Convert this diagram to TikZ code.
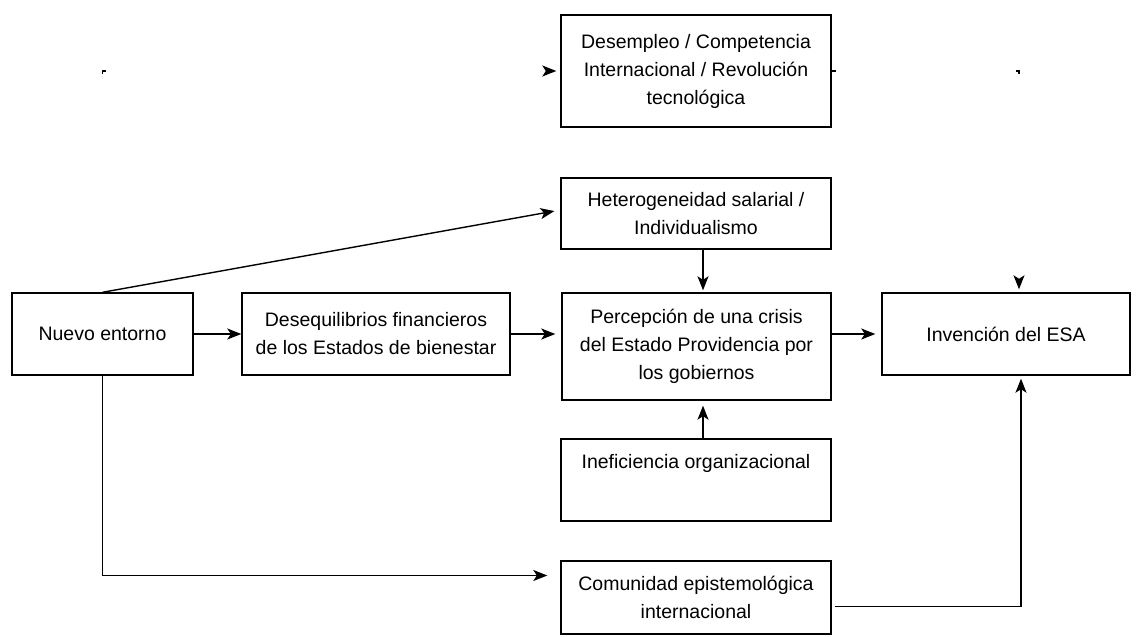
\documentclass[tikz,border=0pt]{standalone}
\usepackage{fontspec}
\setmainfont{Liberation Sans}
\usetikzlibrary{arrows.meta,calc}
\begin{document}
\begin{tikzpicture}[x=1pt,y=-1pt,
  box/.style={draw=black, line width=1.4pt, align=center, inner sep=2pt,
    font=\fontsize{19.5}{28}\selectfont},
  conn/.style={line width=1.4pt, -{Stealth[length=14pt,width=11pt,inset=3.5pt]}},
  ghost/.style={draw=white, line width=1.4pt, -{Stealth[length=14pt,width=11pt,inset=3.5pt,color=black]}},
  tick/.style={line width=1.4pt}
]
\useasboundingbox (0,0) rectangle (1141,637);

\node[box, minimum width=270pt, minimum height=112pt] (top) at (696,71)
  {Desempleo / Competencia\\Internacional / Revolución\\tecnológica};
\node[box, minimum width=270pt, minimum height=71pt] (het) at (696,213.5)
  {Heterogeneidad salarial /\\Individualismo};
\node[box, minimum width=181pt, minimum height=82pt] (nuevo) at (102.5,334)
  {Nuevo entorno};
\node[box, minimum width=268pt, minimum height=82pt] (deseq) at (376,334)
  {Desequilibrios financieros\\de los Estados de bienestar};
\node[box, minimum width=269pt, minimum height=107pt] (perc) at (696.5,346.5)
  {Percepción de una crisis\\del Estado Providencia por\\los gobiernos};
\node[box, minimum width=248pt, minimum height=82pt] (inv) at (1006,334)
  {Invención del ESA};
\node[box, minimum width=270pt, minimum height=82pt] (inef) at (696,480)
  {Ineficiencia organizacional\\\strut};
\node[box, minimum width=270pt, minimum height=73pt] (com) at (696,597.5)
  {Comunidad epistemológica\\internacional};

% nearly invisible connectors to and from the top box
\draw[ghost, shorten >=4pt] (nuevo.north) |- (top.west);
\coordinate (c2) at ([xshift=13pt]inv.north |- top.east);
\draw[ghost, shorten >=3pt] (top.east) -| ([xshift=13pt]inv.north);
\draw[tick] ($(nuevo.north|-top.west)+(0,3)$) -- (nuevo.north|-top.west) -- ++(3,0);
\draw[tick] (top.east) -- ++(4,0);
\draw[tick] ($(c2)+(-3,0)$) -- (c2) -- ++(0,3);

% visible connectors
\draw[conn, shorten >=6pt] (nuevo.north) -- ([yshift=3.5pt]het.west);
\draw[conn] (nuevo.east) -- (deseq.west);
\draw[conn, shorten >=6pt] (deseq.east) -- (deseq.east -| perc.west);
\draw[conn, shorten >=6pt] (perc.east |- inv.west) -- (inv.west);
\draw[conn, shorten >=2pt] ([xshift=7pt]het.south) -- ([xshift=7pt]het.south |- perc.north);
\draw[conn, shorten >=5pt] ([xshift=7pt]inef.north) -- ([xshift=7pt]inef.north |- perc.south);
\draw[conn, shorten >=13pt] (nuevo.south) |- ([yshift=22pt]com.west);
\draw[conn, shorten >=3pt] ([xshift=3pt,yshift=-9pt]com.east) -| ([xshift=15pt]inv.south);
\end{tikzpicture}
\end{document}
